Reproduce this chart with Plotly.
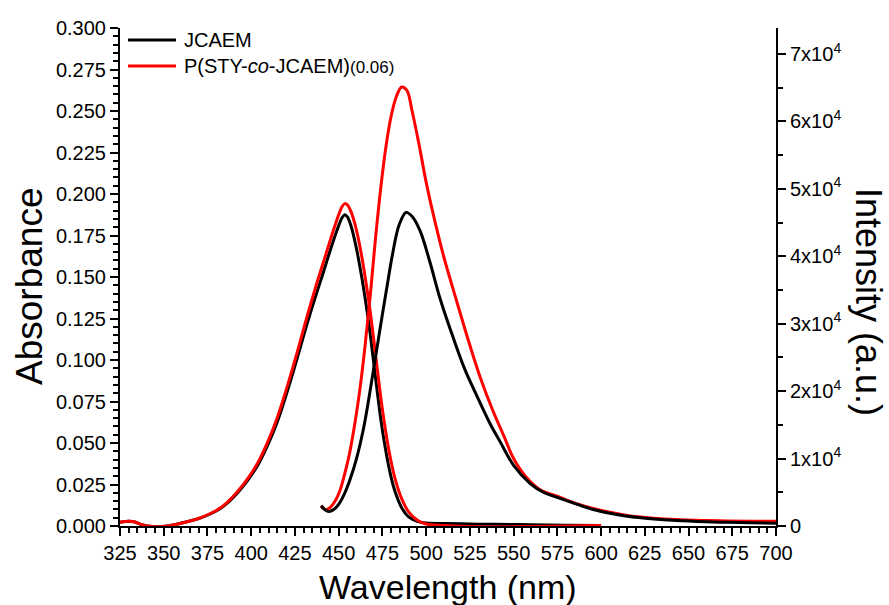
import plotly.graph_objects as go

# ---------------- data ----------------
abs_nm = [325, 330, 333, 337, 342, 347, 352, 358, 365, 372, 380, 386, 392, 398, 404,
          410, 415, 420, 426, 432, 437, 441, 445, 449, 452, 453.5, 455, 457, 460, 463,
          466, 468, 471, 474, 476, 479, 482, 486, 490, 495, 500, 510, 525, 540, 560,
          580, 600]
abs_jcaem = [0.0022, 0.0028, 0.0026, 0.0010, -0.0002, -0.0004, 0.0000, 0.0012, 0.0030,
             0.0052, 0.0090, 0.0135, 0.0198, 0.0275, 0.0370, 0.0500, 0.0630, 0.0790,
             0.1000, 0.1220, 0.1390, 0.1520, 0.1655, 0.1780, 0.1858, 0.1875, 0.1862,
             0.1810, 0.1680, 0.1510, 0.1310, 0.1160, 0.0900, 0.0650, 0.0510, 0.0340,
             0.0215, 0.0110, 0.0055, 0.0028, 0.0018, 0.0015, 0.0012, 0.0010, 0.0008,
             0.0005, 0.0003]
abs_copoly = [0.0022, 0.0028, 0.0026, 0.0010, -0.0002, -0.0004, 0.0000, 0.0012, 0.0030,
              0.0054, 0.0093, 0.0140, 0.0205, 0.0285, 0.0385, 0.0520, 0.0655, 0.0820,
              0.1035, 0.1265, 0.1445, 0.1580, 0.1715, 0.1845, 0.1925, 0.1942, 0.1935,
              0.1895, 0.1790, 0.1635, 0.1440, 0.1295, 0.1040, 0.0780, 0.0630, 0.0440,
              0.0295, 0.0165, 0.0085, 0.0035, 0.0012, 0.0003, -0.0003, -0.0005, -0.0003,
              0.0000, 0.0003]

em_nm_jcaem = [440, 442, 444.5, 447, 450, 453, 456.5, 460, 464, 467, 470, 473.5, 477.5,
               481, 484.5, 488.5, 492, 496.5, 502, 508, 515.5, 522, 529, 536.5, 542.5,
               550, 559.5, 567, 576.5, 586, 595.5, 605, 615, 630, 643, 660, 672, 685, 700]
em_jcaem = [3000, 2450, 2150, 2400, 3200, 4600, 6900, 9800, 14200, 18500, 23300, 29000,
            35300, 40600, 44600, 46500, 45900, 43800, 39300, 33700, 27900, 23300, 19300,
            15200, 12400, 9000, 6300, 5000, 4100, 3250, 2450, 1900, 1450, 1050, 820, 630,
            540, 470, 420]

em_nm_copoly = [440, 442.5, 445, 448, 450.8, 453, 456, 459, 462, 465, 468, 471, 474, 477,
                480, 483, 486, 489, 492, 496, 500, 505, 510, 515, 520, 525, 531, 538, 545,
                550, 557, 565, 576, 586, 596, 605, 615, 630, 643, 660, 672, 685, 700]
em_copoly = [3000, 2400, 2700, 3700, 5300, 7300, 10500, 14800, 20000, 26500, 34000, 42500,
             50000, 56200, 60800, 63700, 65100, 64600, 61500, 56500, 51000, 45200, 40000,
             35500, 31100, 26800, 22000, 17200, 13000, 10000, 7300, 5400, 4300, 3300, 2550,
             2050, 1550, 1150, 950, 820, 760, 720, 700]

x_ticks = list(range(325, 701, 25))
y2_tickvals = [0, 10000, 20000, 30000, 40000, 50000, 60000, 70000]
y2_ticktext = ["0"] + [f"{i}x10<sup>4</sup>" for i in range(1, 8)]

series_names = ["JCAEM", "P(STY-<i>co</i>-JCAEM)<span style='font-size:17px'>(0.06)</span>"]
colors = ["#000000", "#ff0000"]

FONT = "Liberation Sans, Arial, sans-serif"

fig = go.Figure()
line_w = 3
sm = 1.0
fig.add_trace(go.Scatter(x=abs_nm, y=abs_jcaem, mode="lines", name="JCAEM abs",
                         line=dict(color=colors[0], width=line_w, shape="spline", smoothing=sm),
                         showlegend=False))
fig.add_trace(go.Scatter(x=abs_nm, y=abs_copoly, mode="lines", name="copolymer abs",
                         line=dict(color=colors[1], width=line_w, shape="spline", smoothing=sm),
                         showlegend=False))
fig.add_trace(go.Scatter(x=em_nm_copoly, y=em_copoly, mode="lines", name="copolymer em",
                         yaxis="y2",
                         line=dict(color=colors[1], width=line_w, shape="spline", smoothing=sm),
                         showlegend=False))
fig.add_trace(go.Scatter(x=em_nm_jcaem, y=em_jcaem, mode="lines", name="JCAEM em", yaxis="y2",
                         line=dict(color=colors[0], width=line_w, shape="spline", smoothing=sm),
                         showlegend=False))

# plot area geometry
L, R, T, B = 120, 113, 28, 79
W, H = 889, 605
pw, ph = W - L - R, H - T - B


def px(xp):
    return (xp - L) / pw


def py(yp):
    return (H - B - yp) / ph


axis_common = dict(showgrid=False, zeroline=False, showline=True, linecolor="black",
                   linewidth=2, ticks="outside", ticklen=8, tickwidth=2, tickcolor="black",
                   tickfont=dict(family=FONT, size=20, color="black"))

fig.update_layout(
    width=W, height=H,
    margin=dict(l=L, r=R, t=T, b=B),
    paper_bgcolor="white", plot_bgcolor="white",
    showlegend=False,
    xaxis=dict(range=[325, 700], tickmode="array", tickvals=x_ticks,
               minor=dict(tickmode="linear", tick0=325, dtick=5, ticks="outside",
                          ticklen=5, tickwidth=1.5, tickcolor="black"),
               **axis_common),
    yaxis=dict(range=[0, 0.3], tickmode="linear", tick0=0, dtick=0.025, tickformat=".3f",
               minor=dict(tickmode="linear", tick0=0, dtick=0.005, ticks="outside",
                          ticklen=5, tickwidth=1.5, tickcolor="black"),
               **axis_common),
    yaxis2=dict(range=[0, 73850], overlaying="y", side="right", anchor="x",
                tickmode="array", tickvals=y2_tickvals, ticktext=y2_ticktext,
                minor=dict(tickmode="linear", tick0=0, dtick=5000, ticks="outside",
                           ticklen=5, tickwidth=1.5, tickcolor="black"),
                **axis_common),
)

# legend (drawn manually to match the long sample lines)
legend_rows = [40, 66]
for name, col, yrow in zip(series_names, colors, legend_rows):
    fig.add_shape(type="line", xref="paper", yref="paper",
                  x0=px(128), x1=px(176), y0=py(yrow), y1=py(yrow),
                  line=dict(color=col, width=3))
    fig.add_annotation(xref="paper", yref="paper", x=px(182), y=py(yrow),
                       xanchor="left", yanchor="middle", showarrow=False, text=name,
                       font=dict(family=FONT, size=20, color="black"))

# axis titles
fig.add_annotation(xref="paper", yref="paper", x=px(29), y=py(286), textangle=-90,
                   xanchor="center", yanchor="middle", showarrow=False, text="Absorbance",
                   font=dict(family=FONT, size=37, color="black"))
fig.add_annotation(xref="paper", yref="paper", x=px(869), y=py(302), textangle=90,
                   xanchor="center", yanchor="middle", showarrow=False, text="Intensity (a.u.)",
                   font=dict(family=FONT, size=36, color="black"))
fig.add_annotation(xref="paper", yref="paper", x=px(448), y=py(587),
                   xanchor="center", yanchor="middle", showarrow=False, text="Wavelength (nm)",
                   font=dict(family=FONT, size=34, color="black"))

fig.write_html("out.html")
